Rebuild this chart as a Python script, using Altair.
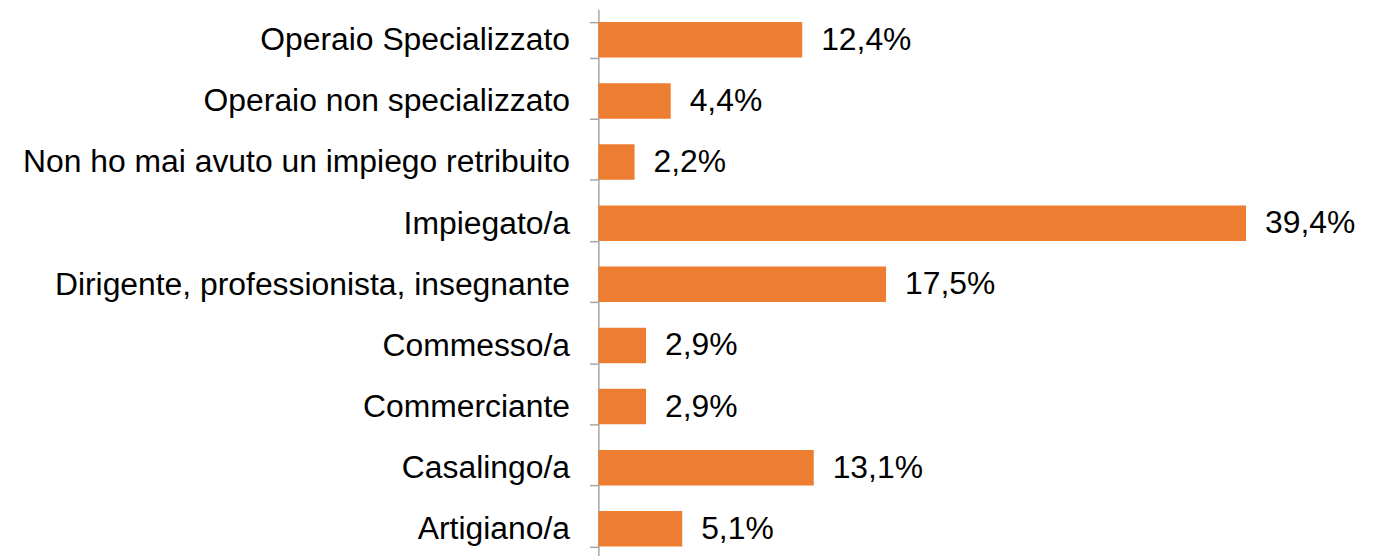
import altair as alt
import pandas as pd

categories = [
    "Operaio Specializzato",
    "Operaio non specializzato",
    "Non ho mai avuto un impiego retribuito",
    "Impiegato/a",
    "Dirigente, professionista, insegnante",
    "Commesso/a",
    "Commerciante",
    "Casalingo/a",
    "Artigiano/a",
]
values = [12.4, 4.4, 2.2, 39.4, 17.5, 2.9, 2.9, 13.1, 5.1]

df = pd.DataFrame({
    "cat": categories,
    "val": values,
    "label": [f"{v:.1f}".replace(".", ",") + "%" for v in values],
})

FONT = "Liberation Sans"
step = 61.4

y_enc = alt.Y(
    "cat:N",
    sort=categories,
    title=None,
    scale=alt.Scale(range=[0, step * 9], paddingInner=0.42, paddingOuter=0.21),
    axis=alt.Axis(
        labelFont=FONT,
        labelFontSize=32,
        labelColor="#000000",
        labelPadding=20,
        labelLimit=700,
        tickBand="extent",
        tickSize=9,
        tickColor="#A6A6A6",
        tickWidth=1.5,
        domainColor="#A6A6A6",
        domainWidth=1.5,
        grid=False,
    ),
)
x_enc = alt.X(
    "val:Q",
    scale=alt.Scale(domain=[0, 45], nice=False, zero=True),
    axis=None,
)

bars = alt.Chart(df).mark_bar(color="#ED7D31").encode(y=y_enc, x=x_enc)
text = alt.Chart(df).mark_text(
    align="left", baseline="middle", dx=19, font=FONT, fontSize=32, color="#000000"
).encode(y=alt.Y("cat:N", sort=categories), x="val:Q", text="label:N")

chart = (
    alt.layer(bars, text)
    .properties(
        width=743,
        height=548,
        background="#FFFFFF",
        autosize=alt.AutoSizeParams(type="none"),
        padding={"left": 593, "top": 0, "right": 27, "bottom": 0},
    )
    .configure_view(strokeWidth=0, stroke="transparent")
)

chart.save("out.html", embed_options={"renderer": "svg", "actions": False})
